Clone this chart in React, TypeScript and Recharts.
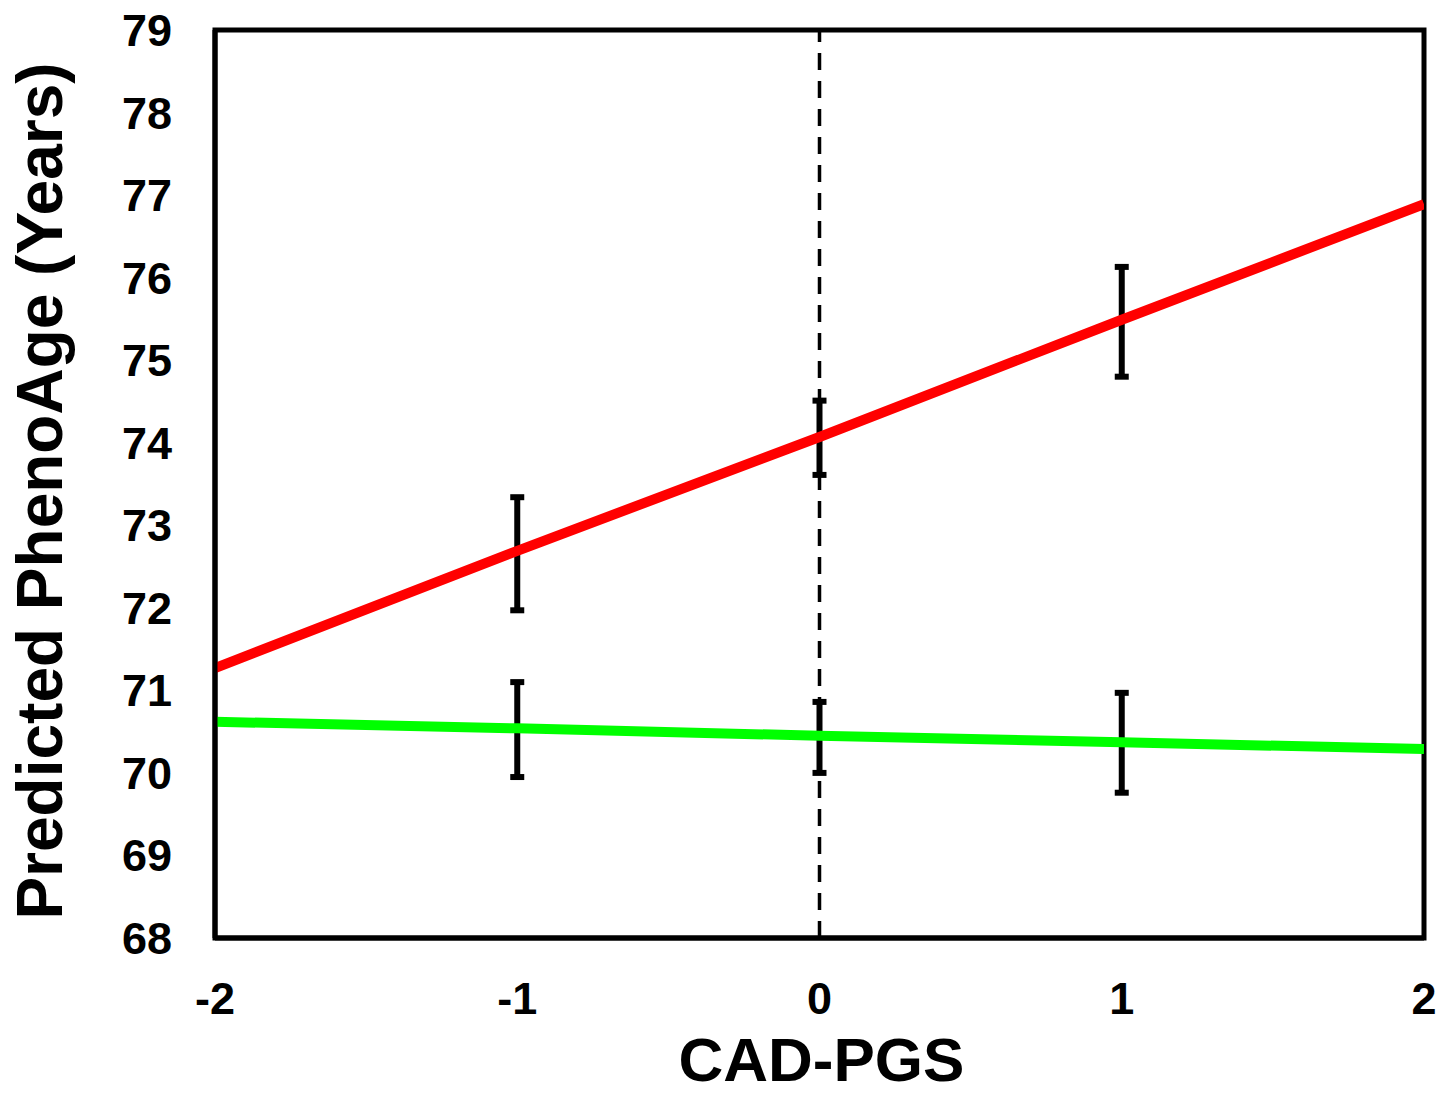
import { LineChart, Line, XAxis, YAxis, ErrorBar, ReferenceLine, ReferenceArea } from 'recharts'

// CAD-PGS values on the x axis
const cadPgs = [-2, -1, 0, 1, 2]
// predicted PhenoAge, red and green lines
const redAge = [71.27, 72.69, 74.07, 75.49, 76.89]
const greenAge = [70.62, 70.54, 70.45, 70.37, 70.29]
// error bar ends (null = no bar)
const redLow = [null, 71.97, 73.61, 74.8, null]
const redHigh = [null, 73.34, 74.51, 76.13, null]
const greenLow = [null, 69.95, 70.0, 69.76, null]
const greenHigh = [null, 71.1, 70.86, 70.97, null]

const xTicks = [-2, -1, 0, 1, 2]
const yTicks = [68, 69, 70, 71, 72, 73, 74, 75, 76, 77, 78, 79]

const FONT = 'Arial, "Liberation Sans", sans-serif'

const errOf = (v: number, lo: number | null, hi: number | null) =>
  lo == null || hi == null ? undefined : [v - lo, hi - v]

const data = cadPgs.map((x, i) => ({
  x,
  red: redAge[i],
  green: greenAge[i],
  redErr: errOf(redAge[i], redLow[i], redHigh[i]),
  greenErr: errOf(greenAge[i], greenLow[i], greenHigh[i]),
}))

const tickStyle = { fontSize: 45, fontWeight: 700, fill: '#000', fontFamily: FONT }

export default function App() {
  return (
    <div style={{ position: 'absolute', left: 0, top: 0, background: '#fff' }}>
      <LineChart width={1455} height={1093} data={data} margin={{ top: 30, right: 31, left: 0, bottom: 0 }}>
        <XAxis
          dataKey="x"
          type="number"
          domain={[-2, 2]}
          ticks={xTicks}
          allowDataOverflow
          height={155}
          tickLine={false}
          tickSize={0}
          tickMargin={44}
          axisLine={{ stroke: '#000', strokeWidth: 5 }}
          tick={tickStyle}
          label={{
            content: ({ viewBox }: any) => (
              <text
                x={viewBox.x + viewBox.width / 2 + 2}
                y={viewBox.y + 143}
                textAnchor="middle"
                style={{ fontSize: 62, fontWeight: 700, fontFamily: FONT, fill: '#000' }}
              >
                CAD-PGS
              </text>
            ),
          }}
        />
        <YAxis
          type="number"
          domain={[68, 79]}
          ticks={yTicks}
          allowDataOverflow
          width={215}
          tickLine={false}
          tickSize={0}
          tickMargin={43}
          axisLine={{ stroke: '#000', strokeWidth: 5 }}
          tick={tickStyle}
          label={{
            content: ({ viewBox }: any) => {
              const cx = 62
              const cy = viewBox.y + viewBox.height / 2 + 7
              return (
                <text
                  x={cx}
                  y={cy}
                  transform={`rotate(-90 ${cx} ${cy})`}
                  textAnchor="middle"
                  style={{ fontSize: 64, fontWeight: 700, fontFamily: FONT, fill: '#000' }}
                >
                  Predicted PhenoAge (Years)
                </text>
              )
            },
          }}
        />
        <ReferenceArea x1={-2} x2={2} y1={68} y2={79} fill="none" stroke="#000" strokeWidth={5} />
        <ReferenceLine x={0} stroke="#000" strokeWidth={3.5} strokeDasharray="17 11" />

        <Line
          type="linear"
          dataKey="red"
          stroke="#ff0000"
          strokeWidth={10}
          dot={false}
          activeDot={false}
          isAnimationActive={false}
        >
          <ErrorBar
            dataKey="redErr"
            direction="y"
            width={7}
            stroke="#000"
            strokeWidth={6}
            style={{ strokeWidth: 6 }}
            isAnimationActive={false}
          />
        </Line>
        <Line
          type="linear"
          dataKey="green"
          stroke="#00ff00"
          strokeWidth={10}
          dot={false}
          activeDot={false}
          isAnimationActive={false}
        >
          <ErrorBar
            dataKey="greenErr"
            direction="y"
            width={7}
            stroke="#000"
            strokeWidth={6}
            style={{ strokeWidth: 6 }}
            isAnimationActive={false}
          />
        </Line>
      </LineChart>
    </div>
  )
}
